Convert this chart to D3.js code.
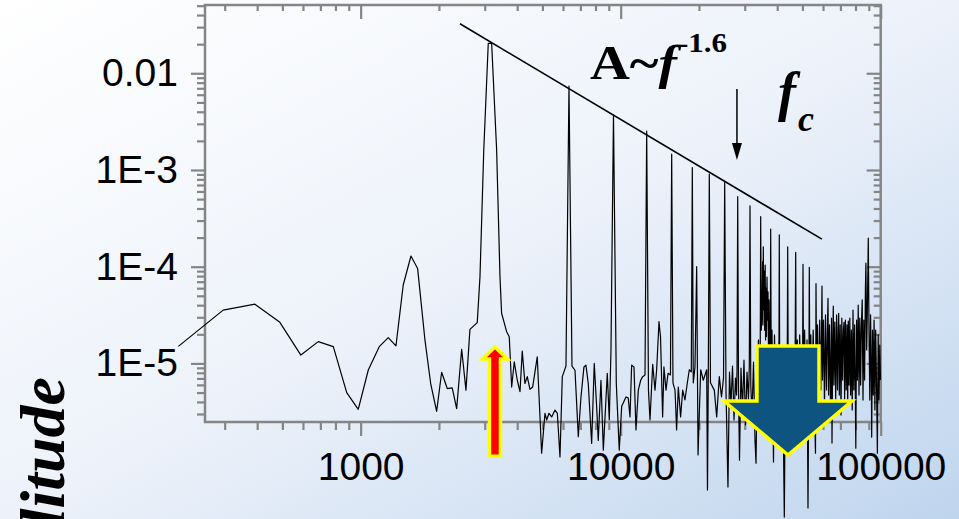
<!DOCTYPE html>
<html>
<head>
<meta charset="utf-8">
<script src="https://cdn.jsdelivr.net/npm/d3@7"></script>
<style>
  html, body { margin: 0; padding: 0; overflow: hidden; background: #fff; }
  svg { display: block; }
</style>
</head>
<body>
<svg id="chart" width="959" height="519"></svg>
<script>
// Amplitude spectrum, [frequency in Hz, amplitude] pairs.
// Low band: broad background and the fundamental peak.
const spectrumLow = [
  [199, 1.5e-5], [296, 3.56e-5], [392, 4.1e-5], [489, 2.66e-5], [589, 1.22e-5],
  [687, 1.68e-5], [785, 1.49e-5], [884, 5.0e-6], [979, 3.35e-6], [1070, 8.55e-6],
  [1179, 1.49e-5], [1277, 1.85e-5], [1367, 1.52e-5], [1458, 6.47e-5], [1561, 1.29e-4],
  [1656, 9.6e-5], [1767, 1.75e-5], [1859, 6.2e-6], [1960, 3.2e-6], [2049, 8.1e-6],
  [2153, 5.5e-6], [2250, 5.6e-6], [2340, 3.4e-6], [2446, 1.4e-5], [2541, 5.3e-6],
  [2632, 2.25e-5], [2808, 2.64e-5], [2877, 7.9e-5], [2975, 1.61e-3], [3096, 0.0204],
  [3190, 0.0204], [3334, 1.61e-3], [3434, 7.9e-5], [3484, 3.3e-5]
];

// Mid band: harmonics 2 to 8 over the noise floor.
const spectrumMid = [
  [3643, 2.13e-5], [3728, 1.89e-5], [3809, 5.7e-6], [3897, 1.04e-5], [4003, 6.7e-6],
  [4100, 5.1e-6], [4183, 1.34e-5], [4284, 6.2e-6], [4373, 7.3e-6], [4479, 5.4e-6],
  [4587, 5.7e-6], [4777, 1.17e-5], [4966, 1.18e-6], [5116, 3.05e-6], [5194, 2.6e-6],
  [5300, 3.05e-6], [5429, 2.8e-6], [5589, 3.3e-6], [5708, 3.05e-6], [5842, 1.08e-6],
  [5963, 7.3e-6], [6161, 9.4e-6], [6327, 7.39e-3], [6497, 9.4e-6], [6673, 8.5e-6],
  [6871, 1.75e-6], [7036, 4.5e-6], [7224, 9.2e-6], [7350, 9.6e-6], [7505, 6.2e-6],
  [7734, 1.49e-6], [7914, 1.0e-5], [8083, 3.6e-6], [8200, 1.6e-6], [8398, 6.7e-6],
  [8577, 1.27e-6], [8882, 7.9e-6], [9040, 2.6e-6], [9177, 1.38e-5], [9383, 3.71e-3],
  [9620, 6.2e-6], [9876, 1.27e-6], [10090, 3.6e-6], [10230, 3.9e-6], [10480, 4.5e-6],
  [10690, 4.4e-6], [10860, 2.8e-6], [11020, 9.6e-6], [11250, 9.2e-6], [11450, 2.05e-6],
  [11690, 5.3e-6], [11940, 6.7e-6], [12150, 7.3e-6], [12405, 7.6e-6], [12590, 2.53e-3],
  [12790, 5.3e-6], [12965, 2.6e-6], [13280, 9.8e-6], [13550, 5.3e-6], [13750, 8.6e-6],
  [14040, 2.7e-5], [14230, 1.89e-5], [14500, 2.8e-6], [14670, 9.2e-6], [14940, 5.3e-6],
  [15210, 7.9e-6], [15540, 7.6e-6], [15710, 1.46e-3], [15890, 6.3e-6], [16180, 5.3e-6],
  [16410, 2.05e-6], [16660, 5.7e-6], [17000, 2.8e-6], [17320, 5.3e-6], [17670, 4.2e-6],
  [18030, 6.2e-6], [18360, 8.6e-6], [18690, 8.2e-6], [18860, 1.06e-3], [19020, 6.3e-6],
  [19310, 9.2e-6], [19600, 1.0e-4], [19840, 1.13e-6], [20310, 8.6e-6], [20780, 6.7e-6],
  [21420, 8.6e-6], [21570, 4.9e-7], [21730, 8.2e-6], [21920, 9.09e-4], [22150, 6.3e-6],
  [22910, 5.3e-6], [23400, 2.8e-6], [23950, 7.3e-6], [24420, 4.5e-6], [24860, 7.1e-6],
  [25120, 7.39e-4], [25410, 5.3e-6]
];

// High band: higher harmonics riding on a rising, dense noise floor.
const spectrumHigh = [
  [25860, 5.27e-7], [26210, 8.15e-6], [26560, 3.71e-6], [26920, 9.4e-6], [27280, 2.6e-6],
  [27640, 7.06e-6], [27890, 4.71e-6], [28020, 8.55e-6], [28190, 5.3e-4], [28390, 5.31e-6],
  [28640, 1.0e-6], [29020, 8.96e-6], [29410, 3.3e-6], [29800, 1.08e-5], [30200, 2.31e-6],
  [30610, 8.15e-6], [31010, 4.18e-6], [31240, 9.6e-6], [31430, 4.27e-4], [31650, 5.98e-6],
  [31990, 2.93e-6], [32420, 1.03e-5], [32850, 1.61e-6], [33150, 9.3e-7], [33530, 8.55e-6],
  [33880, 1.75e-5], [34190, 4.71e-6], [34400, 1.08e-5], [34550, 3.29e-4], [34740, 2.21e-5],
  [35020, 4.53e-5], [35140, 1.12e-4], [35230, 2.5e-5], [35360, 1.6e-4], [35510, 3.57e-5],
  [35640, 9.0e-5], [35800, 2.2e-5], [35960, 1.04e-4], [36080, 1.75e-5], [36210, 6.0e-5],
  [36370, 1.9e-5], [36540, 7.83e-5], [36700, 2.81e-5], [36860, 5.5e-5], [37020, 1.38e-5],
  [37190, 4.53e-5], [37450, 6.73e-6], [37620, 1.38e-5],
  [37750, 2.45e-4], [37920, 1.08e-5], [38190, 2.21e-5], [38700, 9.56e-7], [39040, 1.97e-5],
  [39390, 5.31e-6], [39740, 1.55e-5], [40090, 3.3e-6], [40450, 1.22e-5], [40630, 1.75e-5],
  [40740, 2.13e-4], [40880, 8.55e-6], [41290, 4.18e-6], [41730, 1.38e-5], [42180, 2.6e-6],
  [42590, 2.58e-7], [43050, 1.08e-5], [43500, 4.18e-6], [43730, 1.38e-5], [43890, 1.6e-4],
  [44090, 6.73e-6], [44520, 2.6e-6], [44990, 1.55e-5], [45470, 4.71e-6], [45990, 1.38e-5],
  [46530, 2.05e-6], [46900, 1.55e-5], [47110, 1.41e-4], [47320, 5.98e-6], [47780, 1.75e-5],
  [48290, 3.3e-6], [48800, 1.97e-5], [49380, 4.18e-6], [49900, 1.55e-5], [50080, 1.08e-5],
  [50260, 1.06e-4], [50480, 7.59e-6], [50980, 2.21e-5], [51520, 2.6e-6], [52070, 1.75e-5],
  [52530, 3.2e-7], [53000, 1.38e-5], [53140, 9.86e-5], [53370, 6.73e-6], [53850, 1.97e-5],
  [54430, 4.18e-6], [55000, 2.21e-5], [55540, 4.71e-6], [56140, 1.18e-6], [56390, 6.67e-5],
  [56640, 1.08e-5], [57140, 2.5e-5], [57700, 4.18e-6], [58260, 2.81e-5], [58830, 5.31e-6],
  [59200, 1.97e-5], [59460, 6.32e-5], [59730, 6.73e-6], [60260, 2.81e-5], [60790, 3.71e-6],
  [61340, 3.17e-5], [61880, 5.31e-6], [62370, 2.21e-5], [62710, 4.71e-5], [63040, 4.71e-6],
  [63540, 2.5e-5], [64110, 3.3e-6], [64690, 2.95e-5], [64970, 1.5e-6], [65430, 1.75e-5],
  [65720, 3.92e-5], [66070, 5.98e-6], [66600, 2.68e-5], [67130, 4.18e-6], [67670, 3.17e-5],
  [68210, 5.31e-6], [68640, 2.21e-5], [68940, 3.3e-5], [69310, 4.71e-6], [69870, 2.5e-5],
  [70370, 2.93e-6], [70870, 2.95e-5], [71380, 6.73e-6], [71880, 2.21e-5], [72270, 2.66e-5],
  [72650, 4.18e-6], [73170, 2.81e-5], [73680, 5.31e-6], [74210, 2.5e-5], [74670, 3.71e-6],
  [75070, 2.74e-5], [75540, 5.98e-6], [76070, 2.95e-5], [76610, 4.71e-6], [77150, 2.21e-5],
  [77700, 3.3e-6], [78250, 3.56e-5], [78810, 5.31e-6], [79370, 2.5e-5], [79930, 4.18e-6],
  [80220, 1.33e-6], [80780, 2.81e-5], [81360, 6.73e-6], [81940, 4.02e-5], [82520, 4.71e-6],
  [83100, 2.95e-5], [83690, 5.98e-6], [84290, 2.5e-5], [84890, 4.53e-5], [85490, 4.18e-6],
  [86100, 2.81e-5], [86710, 6.73e-6], [87330, 5.74e-5], [87710, 1.09e-4], [88340, 1.38e-5],
  [88960, 4.53e-5], [89590, 1.98e-4], [90160, 2.21e-5], [90790, 4.18e-6], [91430, 3.17e-5],
  [92090, 5.98e-6], [92330, 1.73e-6], [92990, 2.21e-5], [93640, 4.71e-6], [94310, 2.81e-5],
  [94980, 3.3e-6], [95650, 2.21e-5], [96330, 6.73e-6], [97110, 1.18e-6], [97800, 1.97e-5],
  [98500, 4.18e-6], [99190, 1.55e-5], [99820, 6.73e-6]
];

// Axis ranges and labelled ticks.
const xDomainHz = [252, 100000];
const yDomainAmp = [2.48e-6, 0.0508];
const xMajorTicks = [1000, 10000, 100000];
const xTickLabels = ["1000", "10000", "100000"];
const yMajorTicks = [1e-5, 1e-4, 1e-3, 1e-2];
const yTickLabels = ["1E-5", "1E-4", "1E-3", "0.01"];

// Power-law envelope A = C * f^n over the harmonic peaks.
const powerLawExponent = -1.6;
const powerLawCoef = 8370;
const powerLawRangeHz = [2410, 59400];

// Annotation anchors, in data units.
const cutoffHz = 28000;
const cutoffArrowAmp = [6.88e-3, 1.27e-3];
const upArrowHz = 3285;
const upArrowAmp = [1.1e-6, 1.48e-5];      // [tail, tip]
const downArrowHz = 44000;
const downArrowAmp = [1.51e-5, 1.13e-6];   // [tail, tip]

const W = 959, H = 519;
const plot = { left: 205, right: 880.7, top: 5, bottom: 422 };
const svg = d3.select("#chart");

const x = d3.scaleLog().domain(xDomainHz).range([plot.left, plot.right]);
const y = d3.scaleLog().domain(yDomainAmp).range([plot.bottom, plot.top]);

// Background wash
const defs = svg.append("defs");
const grad = defs.append("linearGradient").attr("id", "bgGrad")
  .attr("x1", "0").attr("y1", "0").attr("x2", "1").attr("y2", "1");
grad.append("stop").attr("offset", "0").attr("stop-color", "#ffffff");
grad.append("stop").attr("offset", "0.5").attr("stop-color", "#edf2fa");
grad.append("stop").attr("offset", "1").attr("stop-color", "#bfd5ee");
svg.append("rect").attr("width", W).attr("height", H).attr("fill", "url(#bgGrad)");

// Axes
const axisColor = "#858585";
const isMajor = (v, majors) => majors.some(m => Math.abs(v / m - 1) < 1e-6);
const xMinor = x.ticks().filter(v => !isMajor(v, xMajorTicks));
const yMinor = y.ticks().filter(v => !isMajor(v, yMajorTicks));

function styleAxis(g) {
  g.select(".domain").remove();
  g.selectAll(".tick line").attr("stroke", axisColor).attr("stroke-width", 2.2);
  g.selectAll(".tick text")
    .attr("fill", "#000")
    .attr("font-family", "'Liberation Sans', Arial, sans-serif")
    .attr("font-size", 39);
}

const axes = svg.append("g");
// bottom: ticks outward, labelled
axes.append("g").attr("transform", `translate(0,${plot.bottom})`)
  .call(d3.axisBottom(x).tickValues(xMinor).tickSize(8).tickFormat("")).call(styleAxis);
axes.append("g").attr("transform", `translate(0,${plot.bottom})`)
  .call(d3.axisBottom(x).tickValues(xMajorTicks).tickSize(14).tickPadding(16)
    .tickFormat((d, i) => xTickLabels[i])).call(styleAxis);
// top: ticks inward
axes.append("g").attr("transform", `translate(0,${plot.top})`)
  .call(d3.axisTop(x).tickValues(xMinor).tickSize(-6).tickFormat("")).call(styleAxis);
axes.append("g").attr("transform", `translate(0,${plot.top})`)
  .call(d3.axisTop(x).tickValues(xMajorTicks).tickSize(-14).tickFormat("")).call(styleAxis);
// left: ticks outward, labelled
axes.append("g").attr("transform", `translate(${plot.left},0)`)
  .call(d3.axisLeft(y).tickValues(yMinor).tickSize(8).tickFormat("")).call(styleAxis);
axes.append("g").attr("transform", `translate(${plot.left},0)`)
  .call(d3.axisLeft(y).tickValues(yMajorTicks).tickSize(14).tickPadding(13)
    .tickFormat((d, i) => yTickLabels[i])).call(styleAxis);
// right: ticks inward
axes.append("g").attr("transform", `translate(${plot.right},0)`)
  .call(d3.axisRight(y).tickValues(yMinor).tickSize(-7).tickFormat("")).call(styleAxis);
axes.append("g").attr("transform", `translate(${plot.right},0)`)
  .call(d3.axisRight(y).tickValues(yMajorTicks).tickSize(-14).tickFormat("")).call(styleAxis);

// Frame
svg.append("rect")
  .attr("x", plot.left).attr("y", plot.top)
  .attr("width", plot.right - plot.left).attr("height", plot.bottom - plot.top)
  .attr("fill", "none").attr("stroke", axisColor).attr("stroke-width", 2.5);

// Spectrum trace
const spectrum = spectrumLow.concat(spectrumMid, spectrumHigh);
const line = d3.line().x(d => x(d[0])).y(d => y(d[1]));
svg.append("path").datum(spectrum)
  .attr("d", line)
  .attr("fill", "none").attr("stroke", "#000").attr("stroke-width", 1.2)
  .attr("stroke-linejoin", "round");

// Power-law envelope
const powerLaw = powerLawRangeHz.map(f => [f, powerLawCoef * Math.pow(f, powerLawExponent)]);
svg.append("path").datum(powerLaw)
  .attr("d", line)
  .attr("fill", "none").attr("stroke", "#000").attr("stroke-width", 1.6);

// Upward red arrow at the fundamental
{
  const cx = x(upArrowHz), tail = y(upArrowAmp[0]), tip = y(upArrowAmp[1]);
  const hh = 12, hw = 12.5, sw = 5.5;
  const pts = [[cx, tip], [cx + hw, tip + hh], [cx + sw, tip + hh], [cx + sw, tail],
               [cx - sw, tail], [cx - sw, tip + hh], [cx - hw, tip + hh]];
  svg.append("polygon").attr("points", pts.map(p => p.join(",")).join(" "))
    .attr("fill", "#ff0000").attr("stroke", "#ffff00").attr("stroke-width", 3.5)
    .attr("stroke-linejoin", "miter");
}

// Large downward arrow over the high band
{
  const cx = x(downArrowHz), top = y(downArrowAmp[0]), tip = y(downArrowAmp[1]);
  const sw = 31, hw = 64, shaft = 55;
  const pts = [[cx - sw, top], [cx + sw, top], [cx + sw, top + shaft], [cx + hw, top + shaft],
               [cx, tip], [cx - hw, top + shaft], [cx - sw, top + shaft]];
  svg.append("polygon").attr("points", pts.map(p => p.join(",")).join(" "))
    .attr("fill", "#0e5480").attr("stroke", "#ffff00").attr("stroke-width", 3.5)
    .attr("stroke-linejoin", "miter");
}

// Cut-off frequency marker
{
  const cx = x(cutoffHz), y0 = y(cutoffArrowAmp[0]), y1 = y(cutoffArrowAmp[1]);
  svg.append("line").attr("x1", cx).attr("x2", cx).attr("y1", y0).attr("y2", y1 - 14)
    .attr("stroke", "#000").attr("stroke-width", 1.5);
  svg.append("polygon")
    .attr("points", `${cx - 5},${y1 - 17} ${cx + 5},${y1 - 17} ${cx},${y1}`)
    .attr("fill", "#000");
}

// Text annotations
const serif = "'Liberation Serif', 'Times New Roman', serif";
const law = svg.append("g").attr("transform", "translate(590,79) scale(1.15,1)");
const lawText = law.append("text")
  .attr("font-family", serif).attr("font-weight", "bold").attr("font-size", 48)
  .attr("fill", "#000");
lawText.append("tspan").text("A~");
lawText.append("tspan").attr("font-style", "italic").text("f");
lawText.append("tspan").attr("x", 76.5).attr("y", -27).attr("font-size", 27).text("-1.6");

svg.append("text").attr("x", 778).attr("y", 110)
  .attr("font-family", serif).attr("font-weight", "bold").attr("font-style", "italic")
  .attr("font-size", 54).attr("fill", "#000").text("f");
svg.append("text").attr("x", 798).attr("y", 131)
  .attr("font-family", serif).attr("font-weight", "bold").attr("font-style", "italic")
  .attr("font-size", 36).attr("fill", "#000").text("c");

// Vertical axis title
svg.append("text")
  .attr("transform", "translate(64,377) rotate(-90)")
  .attr("text-anchor", "end")
  .attr("font-family", serif).attr("font-weight", "bold").attr("font-style", "italic")
  .attr("font-size", 64).attr("fill", "#000")
  .text("Amplitude");
</script>
</body>
</html>
